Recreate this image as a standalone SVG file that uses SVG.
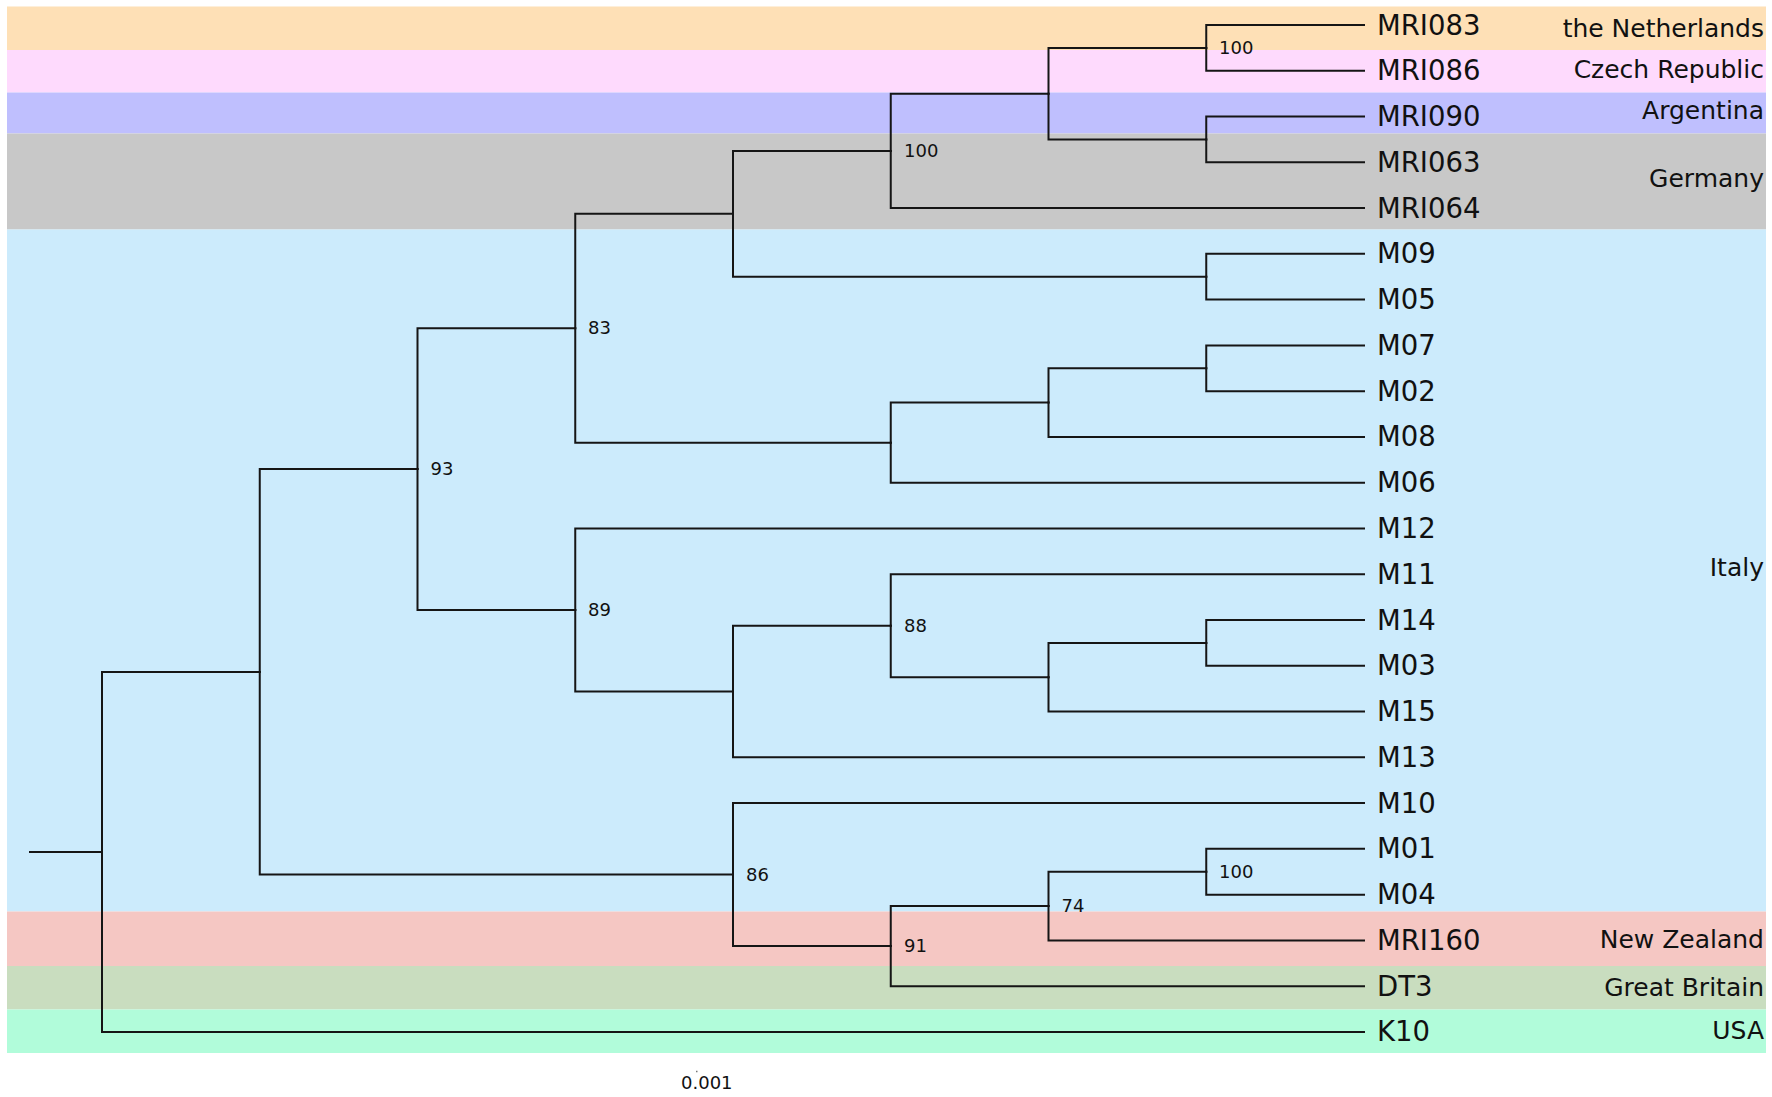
<svg xmlns="http://www.w3.org/2000/svg" width="1772" height="1097" viewBox="0 0 1772 1097">
<style>
.band{stroke:none}
.edge{fill:none;stroke:#151515;stroke-width:2;stroke-linecap:square}
.leaf{font-family:"DejaVu Sans","Liberation Sans",sans-serif;font-size:27.5px;fill:#111}
.boot{font-family:"DejaVu Sans","Liberation Sans",sans-serif;font-size:18px;fill:#111}
.country{font-family:"DejaVu Sans","Liberation Sans",sans-serif;font-size:25px;fill:#111;text-anchor:end}
.scale{font-family:"DejaVu Sans","Liberation Sans",sans-serif;font-size:18px;fill:#111}
</style>
<rect width="1772" height="1097" fill="#ffffff"/>
<g id="regions">
<rect class="band" x="7" y="6.5" width="1759" height="43.5" fill="#FEE0B6"/>
<rect class="band" x="7" y="50" width="1759" height="42.5" fill="#FEDAFD"/>
<rect class="band" x="7" y="92.5" width="1759" height="41" fill="#BFBFFE"/>
<rect class="band" x="7" y="133.5" width="1759" height="96" fill="#C8C8C8"/>
<rect class="band" x="7" y="229.5" width="1759" height="682" fill="#CCEBFC"/>
<rect class="band" x="7" y="911.5" width="1759" height="54.5" fill="#F5C7C3"/>
<rect class="band" x="7" y="966" width="1759" height="43.5" fill="#C9DDBF"/>
<rect class="band" x="7" y="1009.5" width="1759" height="43.5" fill="#B1FCDA"/>
<text class="country" x="1764" y="36.5">the Netherlands</text>
<text class="country" x="1764" y="78">Czech Republic</text>
<text class="country" x="1764" y="119">Argentina</text>
<text class="country" x="1764" y="187">Germany</text>
<text class="country" x="1764" y="576">Italy</text>
<text class="country" x="1764" y="948">New Zealand</text>
<text class="country" x="1764" y="996">Great Britain</text>
<text class="country" x="1764" y="1039">USA</text>
</g>
<g id="connectors">
<path class="edge" d="M30 851.9 H102"/>
<path class="edge" d="M102 851.9 V671.9 H259.75"/>
<path class="edge" d="M102 851.9 V1031.94 H1364"/>
<path class="edge" d="M259.75 671.9 V469.1 H417.5"/>
<path class="edge" d="M259.75 671.9 V874.6 H733"/>
<path class="edge" d="M417.5 469.1 V328.2 H575.25"/>
<path class="edge" d="M417.5 469.1 V610 H575.25"/>
<path class="edge" d="M575.25 328.2 V213.8 H733"/>
<path class="edge" d="M575.25 328.2 V442.7 H890.75"/>
<path class="edge" d="M733 213.8 V150.9 H890.75"/>
<path class="edge" d="M733 213.8 V276.7 H1206.25"/>
<path class="edge" d="M890.75 150.9 V93.7 H1048.5"/>
<path class="edge" d="M890.75 150.9 V208.08 H1364"/>
<path class="edge" d="M1048.5 93.7 V47.9 H1206.25"/>
<path class="edge" d="M1048.5 93.7 V139.4 H1206.25"/>
<path class="edge" d="M1206.25 47.9 V25 H1364"/>
<path class="edge" d="M1206.25 47.9 V70.77 H1364"/>
<path class="edge" d="M1206.25 139.4 V116.54 H1364"/>
<path class="edge" d="M1206.25 139.4 V162.31 H1364"/>
<path class="edge" d="M1206.25 276.7 V253.85 H1364"/>
<path class="edge" d="M1206.25 276.7 V299.62 H1364"/>
<path class="edge" d="M890.75 442.7 V402.6 H1048.5"/>
<path class="edge" d="M890.75 442.7 V482.7 H1364"/>
<path class="edge" d="M1048.5 402.6 V368.3 H1206.25"/>
<path class="edge" d="M1048.5 402.6 V436.93 H1364"/>
<path class="edge" d="M1206.25 368.3 V345.39 H1364"/>
<path class="edge" d="M1206.25 368.3 V391.16 H1364"/>
<path class="edge" d="M575.25 610 V528.47 H1364"/>
<path class="edge" d="M575.25 610 V691.5 H733"/>
<path class="edge" d="M733 691.5 V625.7 H890.75"/>
<path class="edge" d="M733 691.5 V757.32 H1364"/>
<path class="edge" d="M890.75 625.7 V574.24 H1364"/>
<path class="edge" d="M890.75 625.7 V677.2 H1048.5"/>
<path class="edge" d="M1048.5 677.2 V642.9 H1206.25"/>
<path class="edge" d="M1048.5 677.2 V711.55 H1364"/>
<path class="edge" d="M1206.25 642.9 V620.01 H1364"/>
<path class="edge" d="M1206.25 642.9 V665.78 H1364"/>
<path class="edge" d="M733 874.6 V803.09 H1364"/>
<path class="edge" d="M733 874.6 V946.1 H890.75"/>
<path class="edge" d="M890.75 946.1 V906.1 H1048.5"/>
<path class="edge" d="M890.75 946.1 V986.17 H1364"/>
<path class="edge" d="M1048.5 906.1 V871.7 H1206.25"/>
<path class="edge" d="M1048.5 906.1 V940.4 H1364"/>
<path class="edge" d="M1206.25 871.7 V848.86 H1364"/>
<path class="edge" d="M1206.25 871.7 V894.63 H1364"/>
</g>
<g id="leaf-MRI083"><text class="leaf" x="1377" y="34.5">MRI083</text></g>
<g id="leaf-MRI086"><text class="leaf" x="1377" y="80.3">MRI086</text></g>
<g id="leaf-MRI090"><text class="leaf" x="1377" y="126">MRI090</text></g>
<g id="leaf-MRI063"><text class="leaf" x="1377" y="171.8">MRI063</text></g>
<g id="leaf-MRI064"><text class="leaf" x="1377" y="217.6">MRI064</text></g>
<g id="leaf-M09"><text class="leaf" x="1377" y="263.4">M09</text></g>
<g id="leaf-M05"><text class="leaf" x="1377" y="309.1">M05</text></g>
<g id="leaf-M07"><text class="leaf" x="1377" y="354.9">M07</text></g>
<g id="leaf-M02"><text class="leaf" x="1377" y="400.7">M02</text></g>
<g id="leaf-M08"><text class="leaf" x="1377" y="446.4">M08</text></g>
<g id="leaf-M06"><text class="leaf" x="1377" y="492.2">M06</text></g>
<g id="leaf-M12"><text class="leaf" x="1377" y="538">M12</text></g>
<g id="leaf-M11"><text class="leaf" x="1377" y="583.7">M11</text></g>
<g id="leaf-M14"><text class="leaf" x="1377" y="629.5">M14</text></g>
<g id="leaf-M03"><text class="leaf" x="1377" y="675.3">M03</text></g>
<g id="leaf-M15"><text class="leaf" x="1377" y="721.1">M15</text></g>
<g id="leaf-M13"><text class="leaf" x="1377" y="766.8">M13</text></g>
<g id="leaf-M10"><text class="leaf" x="1377" y="812.6">M10</text></g>
<g id="leaf-M01"><text class="leaf" x="1377" y="858.4">M01</text></g>
<g id="leaf-M04"><text class="leaf" x="1377" y="904.1">M04</text></g>
<g id="leaf-MRI160"><text class="leaf" x="1377" y="949.9">MRI160</text></g>
<g id="leaf-DT3"><text class="leaf" x="1377" y="995.7">DT3</text></g>
<g id="leaf-K10"><text class="leaf" x="1377" y="1041.4">K10</text></g>
<g id="node-MRI083-MRI086"><text class="boot" x="1219" y="54">100</text></g>
<g id="node-germany-clade"><text class="boot" x="904" y="157">100</text></g>
<g id="node-83"><text class="boot" x="588" y="334">83</text></g>
<g id="node-93"><text class="boot" x="430.5" y="475">93</text></g>
<g id="node-89"><text class="boot" x="588" y="616">89</text></g>
<g id="node-88"><text class="boot" x="904" y="632">88</text></g>
<g id="node-86"><text class="boot" x="746" y="881">86</text></g>
<g id="node-91"><text class="boot" x="904" y="952">91</text></g>
<g id="node-74"><text class="boot" x="1061.5" y="912">74</text></g>
<g id="node-M01-M04"><text class="boot" x="1219" y="878">100</text></g>
<g id="scale-bar">
<line x1="696" y1="1071.5" x2="697.5" y2="1071.5" stroke="#777" stroke-width="1.5"/>
<text class="scale" x="681" y="1089">0.001</text>
</g>
</svg>
